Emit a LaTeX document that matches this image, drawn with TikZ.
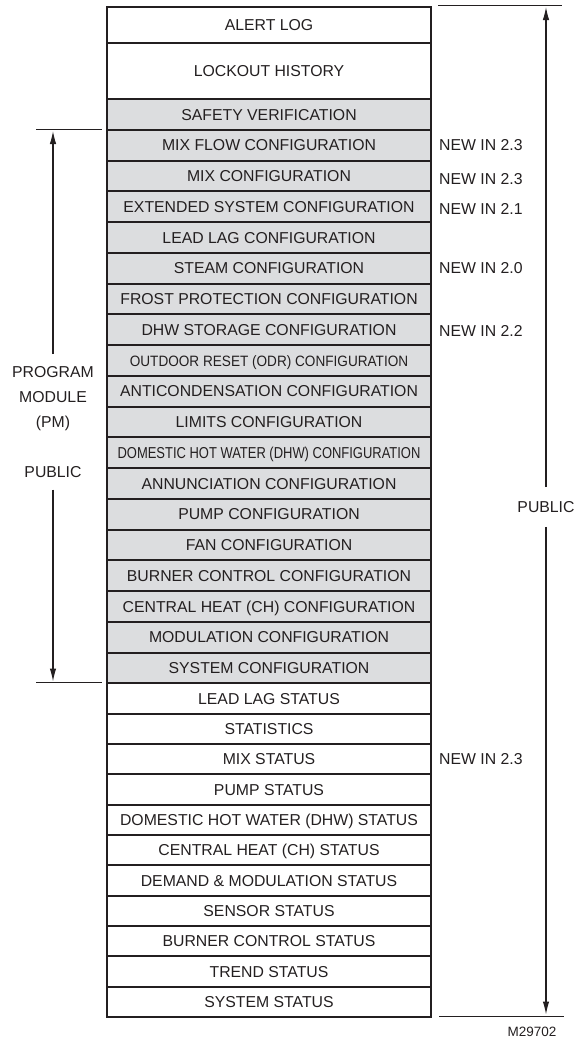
\documentclass[tikz,border=0pt]{standalone}
\usepackage{fontspec}
\setmainfont{Liberation Sans}
\usepackage{graphicx}
\usepackage{tikz}
\usetikzlibrary{arrows.meta, positioning}
\definecolor{rahmen}{HTML}{231F20}
\definecolor{grau}{HTML}{DCDDDF}

\begin{document}
\begin{tikzpicture}[
    x=1pt, y=-1pt,
    every node/.style={font=\fontsize{15.8}{25}\selectfont, text=rahmen},
    zeile/.style={draw=rahmen, line width=2pt, minimum width=324pt,
                  inner sep=0pt, text height=11.4pt, text depth=0pt, anchor=north},
    neu/.style={inner sep=0pt, text height=11.4pt, text depth=0pt},
    pfeil/.style={draw=rahmen, line width=1.1pt, -{Latex[length=13pt,width=6.5pt]}},
    strich/.style={draw=rahmen, line width=0.9pt},
  ]
  \useasboundingbox (0,0) rectangle (576,1042);

  % Kopf (weiss)
  \node[zeile, minimum height=35.7pt] (alert) at (269,6) {ALERT LOG};
  \node[zeile, minimum height=56.3pt] (lockout) at (269,41.7) {LOCKOUT HISTORY};

  % Konfiguration (grau)
  \foreach \txt [count=\i from 0] in {
      {SAFETY VERIFICATION}, {MIX FLOW CONFIGURATION}, {MIX CONFIGURATION},
      {EXTENDED SYSTEM CONFIGURATION}, {LEAD LAG CONFIGURATION},
      {STEAM CONFIGURATION}, {FROST PROTECTION CONFIGURATION},
      {DHW STORAGE CONFIGURATION},
      {\scalebox{0.86}[0.95]{OUTDOOR RESET (ODR) CONFIGURATION}},
      {ANTICONDENSATION CONFIGURATION}, {LIMITS CONFIGURATION},
      {\scalebox{0.82}[1]{DOMESTIC HOT WATER (DHW) CONFIGURATION}},
      {ANNUNCIATION CONFIGURATION}, {PUMP CONFIGURATION},
      {FAN CONFIGURATION}, {BURNER CONTROL CONFIGURATION},
      {CENTRAL HEAT (CH) CONFIGURATION}, {MODULATION CONFIGURATION},
      {SYSTEM CONFIGURATION}}
    \node[zeile, fill=grau, minimum height=30.75pt] (cfg\i) at (269, 98+30.75*\i) {\txt};

  % Status (weiss)
  \foreach \txt [count=\i from 0] in {
      {LEAD LAG STATUS}, {STATISTICS}, {MIX STATUS}, {PUMP STATUS},
      {DOMESTIC HOT WATER (DHW) STATUS}, {CENTRAL HEAT (CH) STATUS},
      {DEMAND \& MODULATION STATUS}, {SENSOR STATUS},
      {BURNER CONTROL STATUS}, {TREND STATUS}, {SYSTEM STATUS}}
    \node[zeile, minimum height=30.35pt] (st\i) at (269, 682.25+30.35*\i) {\txt};

  % Versionshinweise
  \node[neu, right=7pt of cfg1] (neu1) {NEW IN 2.3};
  \node[neu, right=7pt of cfg2, yshift=-2.5pt] (neu2) {NEW IN 2.3};
  \node[neu, right=7pt of cfg3, yshift=-2pt] (neu3) {NEW IN 2.1};
  \node[neu, right=7pt of cfg5] (neu4) {NEW IN 2.0};
  \node[neu, right=7pt of cfg7, yshift=-1pt] (neu5) {NEW IN 2.2};
  \node[neu, right=7pt of st2] (neu6) {NEW IN 2.3};

  % links: Programmmodul
  \coordinate (pmA) at (36,129);   \coordinate (pmB) at (102,129);
  \coordinate (pmC) at (36,682.5); \coordinate (pmD) at (102,682.5);
  \coordinate (pmoben) at (53,131);
  \coordinate (pmunten) at (53,681.5);
  \node[inner xsep=0pt, inner ysep=12pt, align=center, anchor=north] (pm) at (53,354)
    {PROGRAM\\MODULE\\(PM)\\[25pt]PUBLIC};
  \draw[strich] (pmA) -- (pmB);
  \draw[strich] (pmC) -- (pmD);
  \draw[pfeil] (pm.north) -- (pmoben);
  \draw[pfeil] (pm.south) -- (pmunten);

  % rechts: oeffentlich
  \coordinate (pubA) at (438,5.5);    \coordinate (pubB) at (562,5.5);
  \coordinate (pubC) at (439,1016.5); \coordinate (pubD) at (564,1016.5);
  \coordinate (puboben) at (546,7);
  \coordinate (pubunten) at (546,1014.5);
  \node[neu, inner ysep=14pt] (pub) at (546,507) {PUBLIC};
  \draw[strich] (pubA) -- (pubB);
  \draw[strich] (pubC) -- (pubD);
  \draw[pfeil] (pub.north) -- (puboben);
  \draw[pfeil] (pub.south) -- (pubunten);

  \node[anchor=east, font=\fontsize{13.5}{15}\selectfont] (mnr) at (560,1032) {M29702};
\end{tikzpicture}
\end{document}
